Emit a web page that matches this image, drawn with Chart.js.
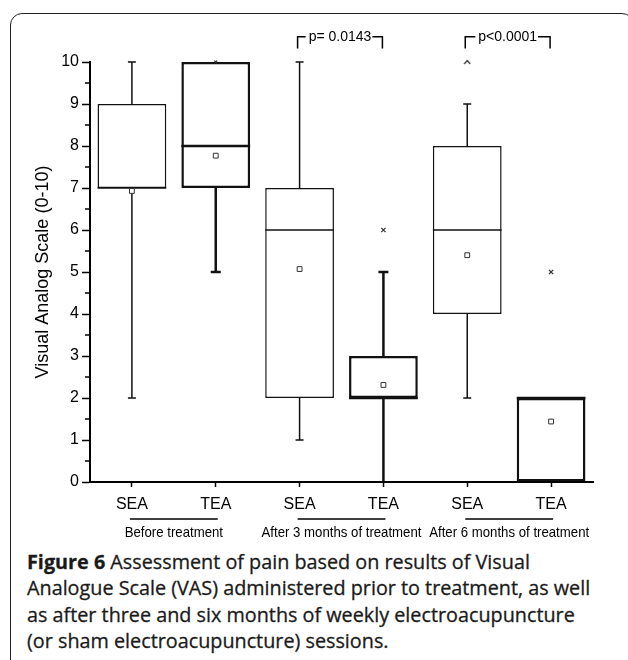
<!DOCTYPE html>
<html>
<head>
<meta charset="utf-8">
<title>Figure 6</title>
<script src="https://cdn.jsdelivr.net/npm/chart.js@4.4.0/dist/chart.umd.min.js"></script>
<style>
  body { margin: 0; background: #fff; width: 628px; height: 660px; overflow: hidden; position: relative; }
  #frame { position: absolute; left: 10px; top: 13px; width: 622px; height: 700px; border: 1.5px solid #222; border-radius: 12px; }
  #wrap { position: absolute; left: 0; top: 0; width: 628px; height: 545px; }
  #caption { position: absolute; left: 27px; top: 549px; font-family: 'Open Sans', sans-serif; font-size: 19.8px; line-height: 26.4px; color: #1a1a1a; white-space: nowrap; -webkit-text-stroke: 0.3px #1a1a1a; }
</style>
</head>
<body>
<div id="frame"></div>
<div id="wrap"><canvas id="myChart"></canvas></div>
<div id="caption">
  <b>Figure 6</b> Assessment of pain based on results of Visual<br>
  Analogue Scale (VAS) administered prior to treatment, as well<br>
  as after three and six months of weekly electroacupuncture<br>
  (or sham electroacupuncture) sessions.
</div>
<script>
// data
var categories = ['SEA', 'TEA', 'SEA', 'TEA', 'SEA', 'TEA'];
var groups = ['Before treatment', 'After 3 months of treatment', 'After 6 months of treatment'];
var q1 = [7, 7, 2, 2, 4, 0];
var q3 = [9, 10, 7, 3, 8, 2];
var medians = [7, 8, 6, 2, 6, 2];
var whiskerMin = [2, 5, 1, 0, 2, 0];
var whiskerMax = [10, 10, 10, 5, 9, 2];
var means = [6.93, 7.77, 5.07, 2.31, 5.4, 1.44];
var extremes = [null, 10, null, 6, 10, 5];
var pLabels = ['p= 0.0143', 'p<0.0001'];
var pPairs = [[2, 3], [4, 5]];

var lineW = [1.5, 2.5, 1.5, 2.5, 1.5, 2.5];
var ink = '#111';
var font = '"Liberation Sans", Arial, sans-serif';

function caret() {
  var c = document.createElement('canvas');
  c.width = 8; c.height = 6;
  var x = c.getContext('2d');
  x.strokeStyle = '#333';
  x.lineWidth = 1.2;
  x.beginPath();
  x.moveTo(1, 5); x.lineTo(4, 1.5); x.lineTo(7, 5);
  x.stroke();
  return c;
}

var boxPlugin = {
  id: 'boxParts',
  beforeDatasetsDraw: function (chart) {
    var ctx = chart.ctx, xs = chart.scales.x, ys = chart.scales.y;
    ctx.save();
    ctx.strokeStyle = ink;
    for (var i = 0; i < categories.length; i++) {
      var x = xs.getPixelForValue(i);
      var cap = lineW[i] > 2 ? 5 : 4;
      ctx.lineWidth = lineW[i];
      ctx.beginPath();
      if (whiskerMax[i] > q3[i]) {
        ctx.moveTo(x, ys.getPixelForValue(q3[i]));
        ctx.lineTo(x, ys.getPixelForValue(whiskerMax[i]));
        ctx.moveTo(x - cap, ys.getPixelForValue(whiskerMax[i]));
        ctx.lineTo(x + cap, ys.getPixelForValue(whiskerMax[i]));
      }
      if (whiskerMin[i] < q1[i]) {
        ctx.moveTo(x, ys.getPixelForValue(q1[i]));
        ctx.lineTo(x, ys.getPixelForValue(whiskerMin[i]));
        if (whiskerMin[i] > 0) {
          ctx.moveTo(x - cap, ys.getPixelForValue(whiskerMin[i]));
          ctx.lineTo(x + cap, ys.getPixelForValue(whiskerMin[i]));
        }
      }
      ctx.stroke();
    }
    ctx.restore();
  },
  afterDatasetDraw: function (chart, args) {
    if (args.index !== 0) return;
    var ctx = chart.ctx, xs = chart.scales.x, ys = chart.scales.y;
    var meta = chart.getDatasetMeta(0);
    ctx.save();
    ctx.strokeStyle = ink;
    for (var i = 0; i < categories.length; i++) {
      var half = meta.data[i].width / 2;
      var x = xs.getPixelForValue(i);
      var y = ys.getPixelForValue(medians[i]);
      ctx.lineWidth = lineW[i];
      ctx.beginPath();
      ctx.moveTo(x - half, y);
      ctx.lineTo(x + half, y);
      ctx.stroke();
    }
    ctx.restore();
  },
  afterDraw: function (chart) {
    var ctx = chart.ctx, xs = chart.scales.x, ys = chart.scales.y;
    ctx.save();
    ctx.strokeStyle = '#000';
    ctx.fillStyle = '#000';
    // minor ticks on y axis
    ctx.lineWidth = 1.5;
    ys.ticks.forEach(function (t) {
      if (Number.isInteger(t.value)) return;
      var y = ys.getPixelForValue(t.value);
      ctx.beginPath();
      ctx.moveTo(ys.right - 5, y);
      ctx.lineTo(ys.right, y);
      ctx.stroke();
    });
    // group underlines and names (slightly condensed text)
    ctx.font = '15px ' + font;
    ctx.textAlign = 'center';
    ctx.textBaseline = 'middle';
    for (var g = 0; g < groups.length; g++) {
      var a = xs.getPixelForValue(g * 2), b = xs.getPixelForValue(g * 2 + 1);
      ctx.lineWidth = 1.5;
      ctx.beginPath();
      ctx.moveTo(a - 2, 519);
      ctx.lineTo(b + 2, 519);
      ctx.stroke();
      ctx.save();
      ctx.translate((a + b) / 2, 533);
      ctx.scale(0.88, 1);
      ctx.fillText(groups[g], 0, 0);
      ctx.restore();
    }
    // significance brackets
    ctx.font = '14px ' + font;
    var yTop = ys.getPixelForValue(10.6), yLow = ys.getPixelForValue(10.32);
    for (var p = 0; p < pLabels.length; p++) {
      var x1 = xs.getPixelForValue(pPairs[p][0]) - 2, x2 = xs.getPixelForValue(pPairs[p][1]) - 1;
      var mid = (x1 + x2) / 2;
      var w = ctx.measureText(pLabels[p]).width;
      ctx.fillText(pLabels[p], mid, yTop);
      ctx.lineWidth = 1.5;
      ctx.beginPath();
      ctx.moveTo(x1, yLow); ctx.lineTo(x1, yTop); ctx.lineTo(mid - w / 2 - 3, yTop);
      ctx.moveTo(mid + w / 2 + 1, yTop); ctx.lineTo(x2, yTop); ctx.lineTo(x2, yLow);
      ctx.stroke();
    }
    ctx.restore();
  }
};

function init() {
  var ctx = document.getElementById('myChart').getContext('2d');
  var chart = new Chart(ctx, {
    type: 'bar',
    data: {
      labels: categories,
      datasets: [{
        label: 'box',
        data: q1.map(function (v, i) { return [v, q3[i]]; }),
        backgroundColor: '#fff',
        borderColor: ink,
        borderWidth: lineW,
        borderSkipped: false,
        barPercentage: 0.82,
        categoryPercentage: 1,
        order: 2
      }, {
        type: 'line',
        label: 'mean',
        data: means,
        showLine: false,
        pointStyle: 'rect',
        pointRadius: 3.4,
        pointBorderWidth: 1,
        pointBorderColor: '#333',
        pointBackgroundColor: '#fff',
        clip: false,
        order: 1
      }, {
        type: 'line',
        label: 'extreme',
        data: extremes,
        showLine: false,
        pointStyle: ['crossRot', 'crossRot', 'crossRot', 'crossRot', caret(), 'crossRot'],
        pointRadius: [2.5, 2, 2.5, 3, 4, 3],
        pointBorderWidth: 1.3,
        pointBorderColor: '#333',
        clip: false,
        order: 0
      }]
    },
    options: {
      responsive: true,
      maintainAspectRatio: false,
      animation: false,
      layout: { padding: { left: 0, right: 35, top: 62, bottom: 0 } },
      plugins: { legend: { display: false }, tooltip: { enabled: false } },
      scales: {
        x: {
          type: 'category',
          offset: true,
          afterFit: function (s) { s.height = 63; },
          grid: { offset: false, drawOnChartArea: false, tickLength: 5, color: '#000', tickWidth: 1.5 },
          border: { color: '#000', width: 2 },
          ticks: { color: '#000', padding: 8, font: { family: font, size: 16 } }
        },
        y: {
          min: 0,
          max: 10,
          afterFit: function (s) { s.width = 90; },
          grid: {
            drawOnChartArea: false,
            tickLength: 8,
            tickWidth: 1.5,
            tickColor: function (c) { return Number.isInteger(c.tick.value) ? '#000' : 'rgba(0,0,0,0)'; }
          },
          border: { color: '#000', width: 2 },
          ticks: {
            stepSize: 0.5,
            autoSkip: false,
            padding: 3,
            color: '#000',
            font: { family: font, size: 16 },
            callback: function (v) { return Number.isInteger(v) ? v : ''; }
          },
          title: {
            display: true,
            text: 'Visual Analog Scale (0-10)',
            color: '#000',
            padding: { top: 32, bottom: 0 },
            font: { family: font, size: 18 }
          }
        }
      }
    },
    plugins: [boxPlugin]
  });
}
init();
</script>
</body>
</html>
